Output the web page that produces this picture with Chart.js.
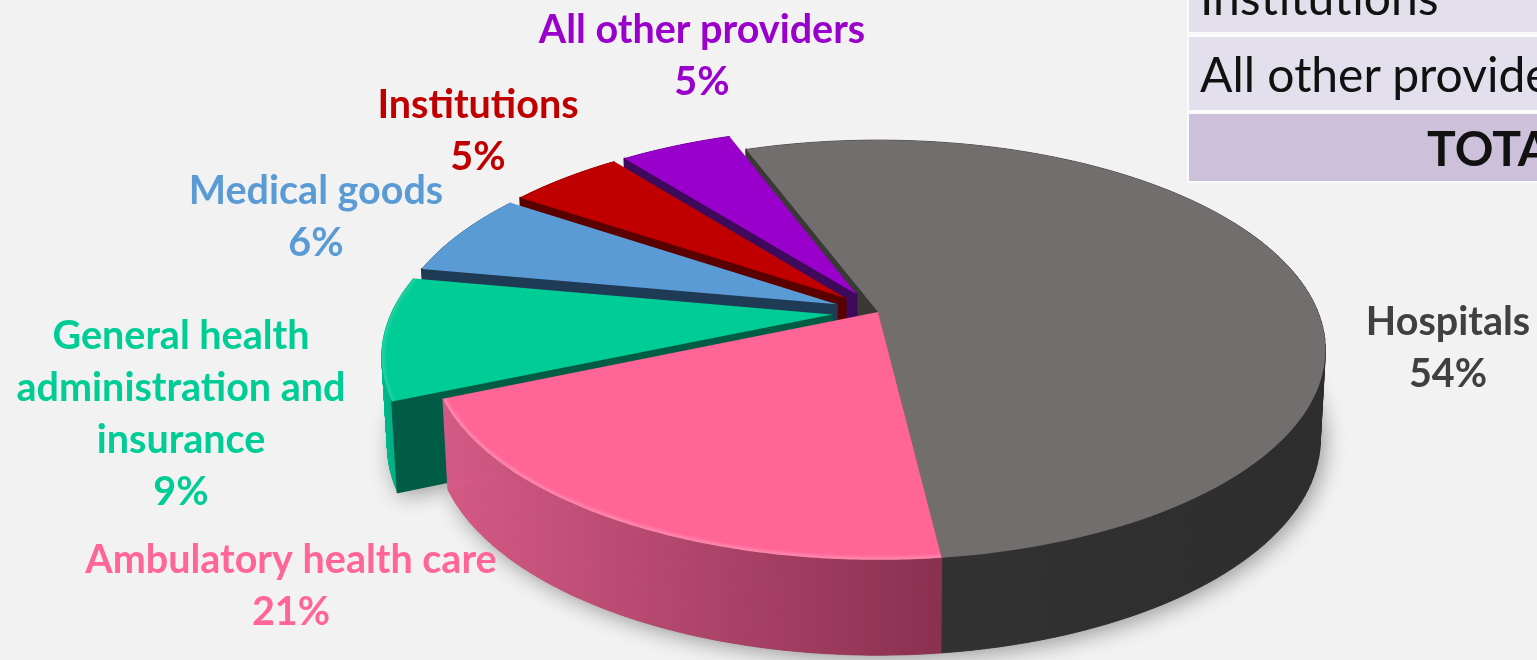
<!DOCTYPE html>
<html>
<head>
<meta charset="utf-8">
<title>Health spending by provider</title>
<script src="https://cdn.jsdelivr.net/npm/chart.js@4"></script>
<style>
  html, body { margin: 0; padding: 0; background: #f2f2f2; overflow: hidden; }
  #wrap { position: relative; width: 1537px; height: 660px; overflow: hidden; }
  #mycanvas { position: absolute; left: 0; top: 0; }
  #tbl { position: absolute; left: 1187px; top: -2px; width: 360px; height: 185px; background: #fafafa; overflow: hidden;
         font-family: Lato, sans-serif; color: #111; filter: blur(0.5px); }
  #tbl div { position: absolute; left: 2px; width: 358px; white-space: nowrap; }
</style>
</head>
<body>
<div id="wrap">
  <canvas id="mycanvas" width="1537" height="660"></canvas>
  <div id="tbl"></div>
</div>
<script>
// values
var categories = ["Hospitals", "Ambulatory health care", "General health administration and insurance", "Medical goods", "Institutions", "All other providers"];
var shares = [53.8, 20.4, 9.4, 6.5, 5, 4.9];
var shareLabels = ["54%", "21%", "9%", "6%", "5%", "5%"];
var labelLines = [
  ["Hospitals"],
  ["Ambulatory health care"],
  ["General health", "administration and", "insurance"],
  ["Medical goods"],
  ["Institutions"],
  ["All other providers"]
];
var tableRows = ["Institutions", "All other providers", "TOTAL"];

// styles
var topColors = ["#726e6d", "#ff6596", "#00cc96", "#5b9bd5", "#c00000", "#9900cc"];
var textColors = ["#404040", "#ff6596", "#00cc96", "#5b9bd5", "#c00000", "#9900cc"];
var innerWall = ["#3a3938", null, "#005c45", "#1f3a55", "#5a0000", "#3f0a5c"];
var outerWallFrom = ["#353434", "#d65a86", "#00b98b", "#3f6f9c", "#800000", "#660088"];
var outerWallTo = ["#2e2d2d", "#8a3050", "#00a47b", "#3f6f9c", "#800000", "#660088"];
var bevelColors = [null, "rgba(255,255,255,0.22)", "rgba(255,255,255,0.12)", null, null, null];
var sliceOffset = [0, 0, 33, 32, 32, 32];
var labelX = [1448, 291, 181, 316, 478, 702];
var labelY = [322, 560, 336, 191, 105, 30];
var lineGap = 52;
var drawOrder = [0, 5, 4, 3, 2, 1];

// perspective planes of the top face and the bottom face
var topPlane = { cx: 878, cy: 312, a: 440, b: 203, k: 0.181 };
var bottomPlane = { cx: 878, cy: 400, a: 435, b: 209, k: 0.181 };

function project(p, u, v) {
  var w = 1 - p.k * v;
  return [p.cx + p.a * u / w, p.cy + p.b * v / w];
}

function sliceGeom(arc) {
  var mid = (arc.startAngle + arc.endAngle) / 2;
  var d = (arc.options.offset || 0) / arc.outerRadius;
  return { a0: arc.startAngle, a1: arc.endAngle, ox: Math.cos(mid) * d, oy: Math.sin(mid) * d };
}

function rimPoints(p, g) {
  var pts = [];
  var n = 120;
  for (var i = 0; i <= n; i++) {
    var t = g.a0 + (g.a1 - g.a0) * i / n;
    pts.push(project(p, g.ox + Math.cos(t), g.oy + Math.sin(t)));
  }
  return pts;
}

function tracePoly(ctx, pts) {
  ctx.beginPath();
  ctx.moveTo(pts[0][0], pts[0][1]);
  for (var i = 1; i < pts.length; i++) ctx.lineTo(pts[i][0], pts[i][1]);
  ctx.closePath();
}

var pie3d = {
  id: "pie3d",
  beforeDatasetDraw: function(chart) {
    var ctx = chart.ctx;
    var arcs = chart.getDatasetMeta(0).data;

    // soft shadow under the whole pie
    ctx.save();
    ctx.shadowColor = "rgba(0,0,0,0.38)";
    ctx.shadowBlur = 22;
    ctx.shadowOffsetX = 4;
    ctx.shadowOffsetY = 4;
    ctx.fillStyle = "#555";
    arcs.forEach(function(arc) {
      var g = sliceGeom(arc);
      var pts = [project(bottomPlane, g.ox, g.oy)].concat(rimPoints(bottomPlane, g));
      tracePoly(ctx, pts);
      ctx.fill();
    });
    ctx.restore();

    drawOrder.forEach(function(i) {
      var g = sliceGeom(arcs[i]);
      var topRim = rimPoints(topPlane, g);
      var botRim = rimPoints(bottomPlane, g);
      var apexTop = project(topPlane, g.ox, g.oy);
      var apexBot = project(bottomPlane, g.ox, g.oy);

      // outer wall, one thin quad per rim step so the silhouette stays closed
      var xs = topRim.map(function(q) { return q[0]; });
      var grad = ctx.createLinearGradient(Math.min.apply(null, xs), 0, Math.max.apply(null, xs), 0);
      grad.addColorStop(0, outerWallFrom[i]);
      grad.addColorStop(1, outerWallTo[i]);
      ctx.fillStyle = grad;
      ctx.strokeStyle = grad;
      ctx.lineWidth = 0.8;
      for (var s = 0; s < topRim.length - 1; s++) {
        tracePoly(ctx, [topRim[s], topRim[s + 1], botRim[s + 1], botRim[s]]);
        ctx.fill();
        ctx.stroke();
      }

      // cut face on the leading edge
      if (innerWall[i]) {
        tracePoly(ctx, [apexTop, topRim[0], botRim[0], apexBot]);
        ctx.fillStyle = innerWall[i];
        ctx.strokeStyle = innerWall[i];
        ctx.lineWidth = 2;
        ctx.lineJoin = "round";
        ctx.fill();
        ctx.stroke();
      }

      // top face
      tracePoly(ctx, [apexTop].concat(topRim));
      ctx.fillStyle = topColors[i];
      ctx.fill();

      // bevel along the rim
      if (bevelColors[i]) {
        ctx.save();
        tracePoly(ctx, [apexTop].concat(topRim));
        ctx.clip();
        ctx.filter = "blur(1.5px)";
        ctx.beginPath();
        topRim.forEach(function(q, j) { if (j) ctx.lineTo(q[0], q[1]); else ctx.moveTo(q[0], q[1]); });
        ctx.strokeStyle = bevelColors[i];
        ctx.lineWidth = 6;
        ctx.stroke();
        ctx.restore();
      }
    });
    return false;
  },
  afterDraw: function(chart) {
    var ctx = chart.ctx;
    ctx.save();
    ctx.font = "bold 39.5px Lato, sans-serif";
    ctx.textAlign = "center";
    ctx.textBaseline = "middle";
    categories.forEach(function(c, i) {
      var lines = labelLines[i].concat([shareLabels[i]]);
      ctx.fillStyle = textColors[i];
      lines.forEach(function(s, j) {
        ctx.fillText(s, labelX[i], labelY[i] + j * lineGap);
      });
    });
    ctx.restore();
  }
};

new Chart(document.getElementById("mycanvas"), {
  type: "pie",
  plugins: [pie3d],
  data: {
    labels: categories,
    datasets: [{ data: shares, backgroundColor: topColors, offset: sliceOffset, borderWidth: 0 }]
  },
  options: {
    responsive: false,
    animation: false,
    rotation: -20.5,
    layout: { padding: 0 },
    plugins: { legend: { display: false }, tooltip: { enabled: false } }
  }
});

// the cropped table in the top right corner
var tbl = document.getElementById("tbl");
var rowTop = [-36, 39, 116];
var rowHeight = [70, 73, 67];
var rowFill = ["#e4dfec", "#e4dfec", "#ccc0da"];
tableRows.forEach(function(t, i) {
  var d = document.createElement("div");
  d.textContent = t;
  d.style.top = rowTop[i] + "px";
  d.style.height = rowHeight[i] + "px";
  d.style.lineHeight = rowHeight[i] + "px";
  d.style.background = rowFill[i];
  d.style.fontSize = "48px";
  d.style.paddingLeft = "11px";
  if (i === 2) {
    d.style.fontWeight = "bold";
    d.style.paddingLeft = "238px";
    d.style.width = "120px";
  }
  tbl.appendChild(d);
});
</script>
</body>
</html>
